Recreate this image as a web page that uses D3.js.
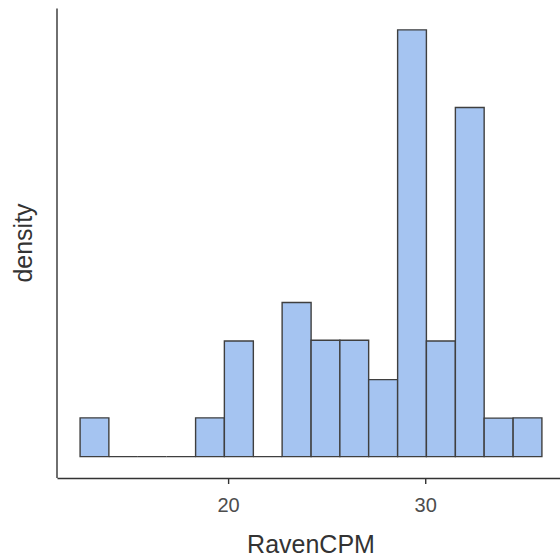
<!DOCTYPE html>
<html>
<head>
<meta charset="utf-8">
<script src="https://cdn.jsdelivr.net/npm/d3@7"></script>
<style>
  body { margin: 0; background: #fff; }
  svg { display: block; }
  text { font-family: "Liberation Sans", Arial, Helvetica, sans-serif; }
</style>
</head>
<body>
<script>
// histogram bins
var binEdges = [12.49, 13.95, 15.42, 16.88, 18.35, 19.81, 21.28, 22.74, 24.21,
                25.67, 27.13, 28.60, 30.06, 31.53, 32.99, 34.46, 35.92];
var binCounts = [1, 0, 0, 0, 1, 3, 0, 4, 3, 3, 2, 11, 3, 9, 1, 1];
var xTicks = [20, 30];

var width = 560,
    height = 560;

var total = d3.sum(binCounts);
var bins = binCounts.map(function (c, i) {
    var w = binEdges[i + 1] - binEdges[i];
    return { x0: binEdges[i], x1: binEdges[i + 1], density: c / (total * w) };
});

var svg = d3.select("body")
    .append("svg")
    .attr("width", width)
    .attr("height", height);

// ggplot-like 5% expansion
var xMin = binEdges[0], xMax = binEdges[binEdges.length - 1];
var xPad = (xMax - xMin) * 0.05;
var x = d3.scaleLinear()
    .domain([xMin - xPad, xMax + xPad])
    .range([57, 565]);

var yMax = d3.max(bins, function (d) { return d.density; });
var y = d3.scaleLinear()
    .domain([-yMax * 0.05, yMax * 1.05])
    .range([478, 8.5]);

//bars as outlined paths so empty bins still show a line
svg.selectAll(".bar")
    .data(bins)
    .enter()
    .append("path")
    .attr("class", "bar")
    .attr("d", function (d) {
        var p = d3.path();
        p.rect(x(d.x0), y(d.density), x(d.x1) - x(d.x0), y(0) - y(d.density));
        return p.toString();
    })
    .attr("fill", "#a5c4f1")
    .attr("stroke", "#3f3f3f")
    .attr("stroke-width", 1.4);

//x axis
var xAxis = svg.append("g")
    .attr("transform", "translate(0," + 478 + ")")
    .call(d3.axisBottom(x).tickValues(xTicks).tickSize(6).tickSizeOuter(0).tickFormat(d3.format("d")));
xAxis.select(".domain").attr("stroke", "#333").attr("stroke-width", 1.4);
xAxis.selectAll(".tick line").attr("stroke", "#333").attr("stroke-width", 1.4);
xAxis.selectAll(".tick text")
    .attr("y", 33.5)
    .attr("dy", null)
    .attr("fill", "#4d4d4d")
    .style("font-size", "20px");

//y axis line only
svg.append("line")
    .attr("x1", 57).attr("x2", 57)
    .attr("y1", y.range()[1]).attr("y2", 478)
    .attr("stroke", "#333")
    .attr("stroke-width", 1.4);

//axis titles
svg.append("text")
    .attr("x", 311)
    .attr("y", 553)
    .attr("text-anchor", "middle")
    .attr("fill", "#333")
    .style("font-size", "25px")
    .text("RavenCPM");

svg.append("text")
    .attr("transform", "translate(32,243) rotate(-90)")
    .attr("text-anchor", "middle")
    .attr("fill", "#333")
    .style("font-size", "25px")
    .text("density");
</script>
</body>
</html>
